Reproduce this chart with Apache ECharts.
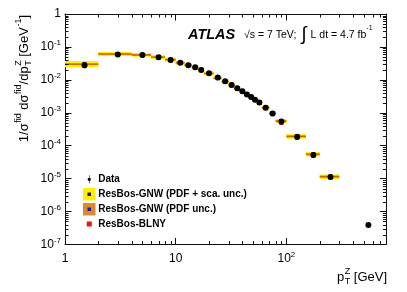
<!DOCTYPE html>
<html><head><meta charset="utf-8">
<script src="https://cdn.jsdelivr.net/npm/echarts@6/dist/echarts.min.js"></script>
<style>html,body{margin:0;padding:0;background:#fff}#c{width:407px;height:292px}</style>
</head><body><div id="c"></div>
<script>
// ---- data ----
const binLo = [1,2,4,6,8,10,12,14,16,18,22,26,30,34,38,42,46,50,54,60,70,80,100,150,200];
const binHi = [2,4,6,8,10,12,14,16,18,22,26,30,34,38,42,46,50,54,60,70,80,100,150,200,300];
const dataX = [1.5,3,5,7,9,11,13,15,17,20,24,28,32,36,40,44,48,52,57,65,75,90,125,175,250,550];
const dataY = [0.028,0.059,0.057,0.049,0.040,0.033,0.028,0.024,0.020,0.0158,0.0118,0.0090,0.0070,0.0056,0.0045,0.0036,0.0030,0.00248,0.00205,0.00143,0.00095,0.00054,0.000187,0.000052,0.0000112,3.9e-7];
const gnwX = [1.5,3,5,7,9,11,13,15,17,20,24,28,32,36,40,44,48,52,57,65,75,90,125,175,250];
const gnwY = [0.030,0.061,0.057,0.049,0.041,0.033,0.028,0.0235,0.0197,0.0156,0.0113,0.0087,0.0068,0.0054,0.0044,0.0036,0.0030,0.00248,0.00205,0.00143,0.00096,0.00056,0.000192,0.000055,0.0000115];
const blnyY = [0.026,0.057,0.055,0.047,0.039,0.033,0.0285,0.0245,0.0205,0.0162,0.0121,0.0092,0.0072,0.0057,0.0046,0.0037,0.00305,0.0025,0.00200,0.00138,0.00091,0.00049,0.000172,0.000049,0.0000108];
const uncTot = [0.25,0.15,0.14,0.14,0.14,0.14,0.14,0.14,0.14,0.14,0.14,0.14,0.14,0.14,0.14,0.14,0.14,0.14,0.14,0.15,0.15,0.16,0.17,0.17,0.17];
const uncPdf = [0.06,0.07,0.07,0.07,0.07,0.07,0.07,0.07,0.07,0.07,0.07,0.07,0.07,0.07,0.07,0.07,0.07,0.07,0.07,0.07,0.07,0.08,0.08,0.08,0.08];
const xMinorTicks = [2,3,4,5,6,7,8,9,20,30,40,50,60,70,80,90,200,300,400,500,600,700];
const yMinorMult = [2,3,4,5,6,7,8,9];
const yDecades = [1e-7,1e-6,1e-5,1e-4,1e-3,1e-2,1e-1];
const seriesNames = ['Data','ResBos-GNW (PDF + sca. unc.)','ResBos-GNW (PDF unc.)','ResBos-BLNY'];

const FONT = 'Liberation Sans';
const chart = echarts.init(document.getElementById('c'), null, {renderer:'canvas'});

// text measuring helper for stacked sub/superscripts
const mctx = document.createElement('canvas').getContext('2d');
function tw(t, size){ mctx.font = size + 'px "' + FONT + '"'; return mctx.measureText(t).width; }
function mathTexts(parts, size){
  const ss = Math.round(size*0.68);
  let x = 0; const kids = [];
  const mk = (t, xx, yy, s) => ({type:'text', x:xx, y:yy, style:{text:t, font:s + 'px "' + FONT + '"', fill:'#000', verticalAlign:'middle', align:'left'}});
  parts.forEach(p => {
    if (p.n != null) { kids.push(mk(p.n, x, 0, size)); x += tw(p.n, size); }
    else {
      let w = 0;
      if (p.sup != null) { kids.push(mk(p.sup, x + 0.5, -size*0.42, ss)); w = Math.max(w, tw(p.sup, ss) + 0.5); }
      if (p.sub != null) { kids.push(mk(p.sub, x + 0.5, size*0.36, ss)); w = Math.max(w, tw(p.sub, ss) + 0.5); }
      x += w;
    }
  });
  return {kids, width:x};
}

const bandData = binLo.map((lo,i)=>[lo, binHi[i], gnwY[i], uncTot[i], uncPdf[i]]);
const tickData = [];
xMinorTicks.forEach(v=>tickData.push([v, 1, 'x']));
yDecades.forEach(d=>yMinorMult.forEach(m=>tickData.push([1, d*m, 'y'])));

function bandRender(which){
  return function(params, api){
    const lo = api.value(0), hi = api.value(1), c = api.value(2);
    const u = api.value(which === 'tot' ? 3 : 4);
    const p1 = api.coord([lo, c*(1+u)]);
    const p2 = api.coord([hi, c/(1+u)]);
    const kids = [{type:'rect', shape:{x:p1[0], y:p1[1], width:p2[0]-p1[0], height:p2[1]-p1[1]},
      style:{fill: which === 'tot' ? '#ffee00' : '#e89a00'}}];
    if (which === 'pdf') {
      const pc = api.coord([lo, c]);
      kids.push({type:'line', shape:{x1:p1[0], y1:pc[1], x2:p2[0], y2:pc[1]}, style:{stroke:'#c85a00', lineWidth:1}});
    }
    return {type:'group', children:kids};
  };
}

const rich = {
  b:{fontSize:12, fontFamily:FONT, lineHeight:16, color:'#000'},
  s:{fontSize:8, fontFamily:FONT, lineHeight:8, verticalAlign:'top', color:'#000'}
};

const axisCommon = {
  type:'log', logBase:10,
  axisLine:{show:true, lineStyle:{color:'#111', width:1}},
  axisTick:{show:true, inside:true, length:6.5, lineStyle:{color:'#111', width:1}},
  splitLine:{show:false}
};

const yTitle = mathTexts([{n:'1/σ'},{sup:'fid'},{n:' dσ'},{sup:'fid'},{n:'/dp'},{sub:'T', sup:'Z'},{n:' [GeV'},{sup:'-1'},{n:']'}], 13);
const xTitle = mathTexts([{n:'p'},{sub:'T', sup:'Z'},{n:' [GeV]'}], 13);

chart.setOption({
  animation:false,
  backgroundColor:'#fff',
  grid:{left:65, right:20.6, top:14, bottom:47.5, containLabel:false},
  xAxis:[
    Object.assign({}, axisCommon, {position:'bottom', min:1, max:800,
      axisLabel:{margin:6, showMaxLabel:false, rich:rich, fontFamily:FONT, fontSize:12, color:'#000',
        formatter:function(v){ const e=Math.log10(v); if (Math.abs(e-Math.round(e))>1e-6) return ''; const n=Math.round(e);
          if(n===0) return '{b|1}'; if(n===1) return '{b|10}'; return '{b|10}{s|'+n+'}'; }}}),
    Object.assign({}, axisCommon, {position:'top', min:1, max:800, axisLabel:{show:false}})
  ],
  yAxis:[
    Object.assign({}, axisCommon, {position:'left', min:1e-7, max:1,
      axisLabel:{margin:4, rich:rich, fontFamily:FONT, fontSize:12, color:'#000',
        formatter:function(v){ const n=Math.round(Math.log10(v)); if(n===0) return '{b|1}'; return '{b|10}{s|'+n+'}'; }}}),
    Object.assign({}, axisCommon, {position:'right', min:1e-7, max:1, axisLabel:{show:false}})
  ],
  legend:{
    orient:'vertical', left:83, top:173.3, itemWidth:8, itemHeight:8, itemGap:2.6, padding:0,
    textStyle:{fontFamily:FONT, fontWeight:'bold', fontSize:10, lineHeight:12, color:'#000'},
    selectedMode:false,
    data:[
      {name:seriesNames[0], icon:'path://M4.6 0H5.4V12H4.6Z M5 3.5A2.5 2.5 0 1 1 5 8.5A2.5 2.5 0 1 1 5 3.5Z', itemStyle:{color:'#000', opacity:1}},
      {name:seriesNames[1], icon:'rect', itemStyle:{color:'#1a1a9a', borderColor:'#ffee00', borderWidth:4.5, opacity:1}},
      {name:seriesNames[2], icon:'rect', itemStyle:{color:'#1a1a9a', borderColor:'#d98a30', borderWidth:4.5, opacity:1}},
      {name:seriesNames[3], icon:'rect', itemStyle:{color:'#ee1111', borderColor:'#ffffff', borderWidth:3, opacity:1}}
    ]
  },
  graphic:[
    {type:'text', x:188, y:35, style:{text:'ATLAS', font:'italic bold 14.5px "'+FONT+'"', fill:'#000', verticalAlign:'middle'}},
    {type:'text', x:244, y:35, style:{
      text:'{n|√s = 7 TeV;}{i|∫}{n|L dt = 4.7 fb}{s|-1}', verticalAlign:'middle',
      rich:{n:{fontSize:10.5, fontFamily:FONT, lineHeight:20, fill:'#000'},
            i:{fontSize:19, fontFamily:FONT, lineHeight:20, fill:'#000', padding:[0,4,0,5]},
            s:{fontSize:7, fontFamily:FONT, lineHeight:12, verticalAlign:'top', fill:'#000'}}}},
    {type:'group', x:387 - xTitle.width, y:277, children:xTitle.kids},
    {type:'group', x:24, y:15 + yTitle.width, rotation:Math.PI/2, children:yTitle.kids}
  ],
  series:[
    {name:seriesNames[1], type:'custom', renderItem:bandRender('tot'), data:bandData, encode:{x:[0,1], y:2}, z:1, clip:true, itemStyle:{color:'#ffee00'}},
    {name:seriesNames[2], type:'custom', renderItem:bandRender('pdf'), data:bandData, encode:{x:[0,1], y:2}, z:2, clip:true, itemStyle:{color:'#e89a00'}},
    {name:'GNW central', type:'scatter', data:gnwX.map((x,i)=>[x,gnwY[i]]), symbol:'rect', symbolSize:4, itemStyle:{color:'#1a1a9a', opacity:1}, z:3},
    {name:seriesNames[3], type:'scatter', data:gnwX.map((x,i)=>[x,blnyY[i]]), symbol:'rect', symbolSize:4, itemStyle:{color:'#ee1111', opacity:1}, z:4},
    {name:seriesNames[0], type:'scatter', data:dataX.map((x,i)=>[x,dataY[i]]), symbol:'circle', symbolSize:6, itemStyle:{color:'#000', opacity:1}, z:5},
    {name:'minor ticks', type:'custom', data:tickData, z:6, clip:false, silent:true,
      renderItem:function(params, api){
        const cs = params.coordSys;
        const p = api.coord([api.value(0), api.value(1)]);
        const L = 3.5;
        const st = {stroke:'#111', lineWidth:1};
        if (tickData[params.dataIndex][2] === 'x') {
          const x = Math.round(p[0])+0.5;
          return {type:'group', children:[
            {type:'line', shape:{x1:x, y1:cs.y+cs.height, x2:x, y2:cs.y+cs.height-L}, style:st},
            {type:'line', shape:{x1:x, y1:cs.y, x2:x, y2:cs.y+L}, style:st}]};
        } else {
          const y = Math.round(p[1])+0.5;
          return {type:'group', children:[
            {type:'line', shape:{x1:cs.x, y1:y, x2:cs.x+L, y2:y}, style:st},
            {type:'line', shape:{x1:cs.x+cs.width, y1:y, x2:cs.x+cs.width-L, y2:y}, style:st}]};
        }
      }}
  ]
});
</script></body></html>
